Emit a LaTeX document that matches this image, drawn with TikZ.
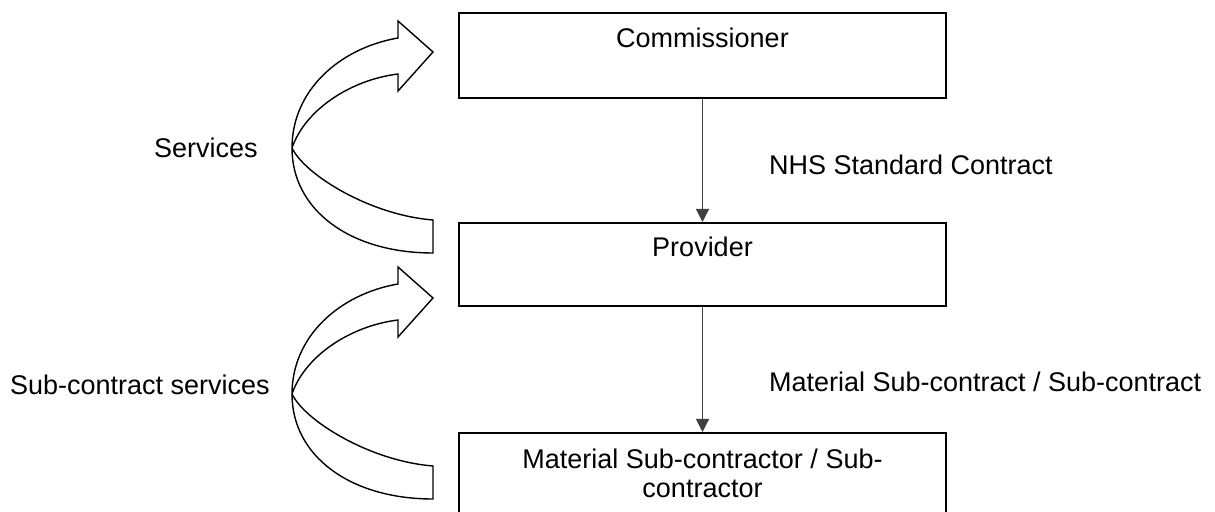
\documentclass[tikz,border=0pt]{standalone}
\usepackage{fontspec}
\setmainfont{Liberation Sans}
\usetikzlibrary{positioning,arrows.meta}

\tikzset{
    box/.style={draw, line width=0.9pt, inner sep=0pt, minimum width=243.5pt},
    link/.style={draw=black!75, line width=0.6pt, -{Triangle[length=6.5pt,width=6.5pt]}},
    linklabel/.style={inner sep=0pt},
    sidelabel/.style={inner sep=0pt},
    bentarrow/.style={draw, fill=white, line width=0.7pt}
}

\begin{document}
\begin{tikzpicture}[x=0.5pt, y=-0.5pt, font=\fontsize{13.5}{14.5}\selectfont]
    \useasboundingbox (0,0) rectangle (1215,512);
    \clip (0,0) rectangle (1215,512);

    \node [box, anchor=north, text height=17.5pt, text depth=25pt] (comm) at (702.5,12) {Commissioner};
    \node [box, anchor=north, text height=17pt, text depth=24.5pt] (prov) at (702.5,222) {Provider};
    \node [box, anchor=north, align=center, text height=32.5pt, text depth=40pt] (sub) at (702.5,432)
        {Material Sub-contractor / Sub-\\contractor};

    \draw [link] (comm) -- node [linklabel, right=33pt, pos=0.54] {NHS Standard Contract} (prov);
    \draw [link] (prov) -- node [linklabel, right=33pt, pos=0.6] {Material Sub-contract / Sub-contract} (sub);

    % bent block arrows on the left
    \foreach \dy/\name in {0/serv, 246/subserv} {
        \begin{scope}[shift={(0,\dy)}]
            \draw [bentarrow] (398,38) .. controls (340,48) and (292,90) .. (292,148)
                .. controls (292,210) and (350,253) .. (433,253)
                -- (433,220)
                .. controls (370,215) and (305,175) .. (292,148)
                .. controls (305,110) and (350,80) .. (398,74)
                -- (398,91) -- (433,52) -- (398,21) -- cycle;
            \coordinate (\name) at (292,148);
        \end{scope}
    }

    \node [sidelabel, left=17pt of serv] (servtext) {Services};
    \node [sidelabel, left=11pt of subserv, yshift=4.5pt] (subservtext) {Sub-contract services};

\end{tikzpicture}
\end{document}
